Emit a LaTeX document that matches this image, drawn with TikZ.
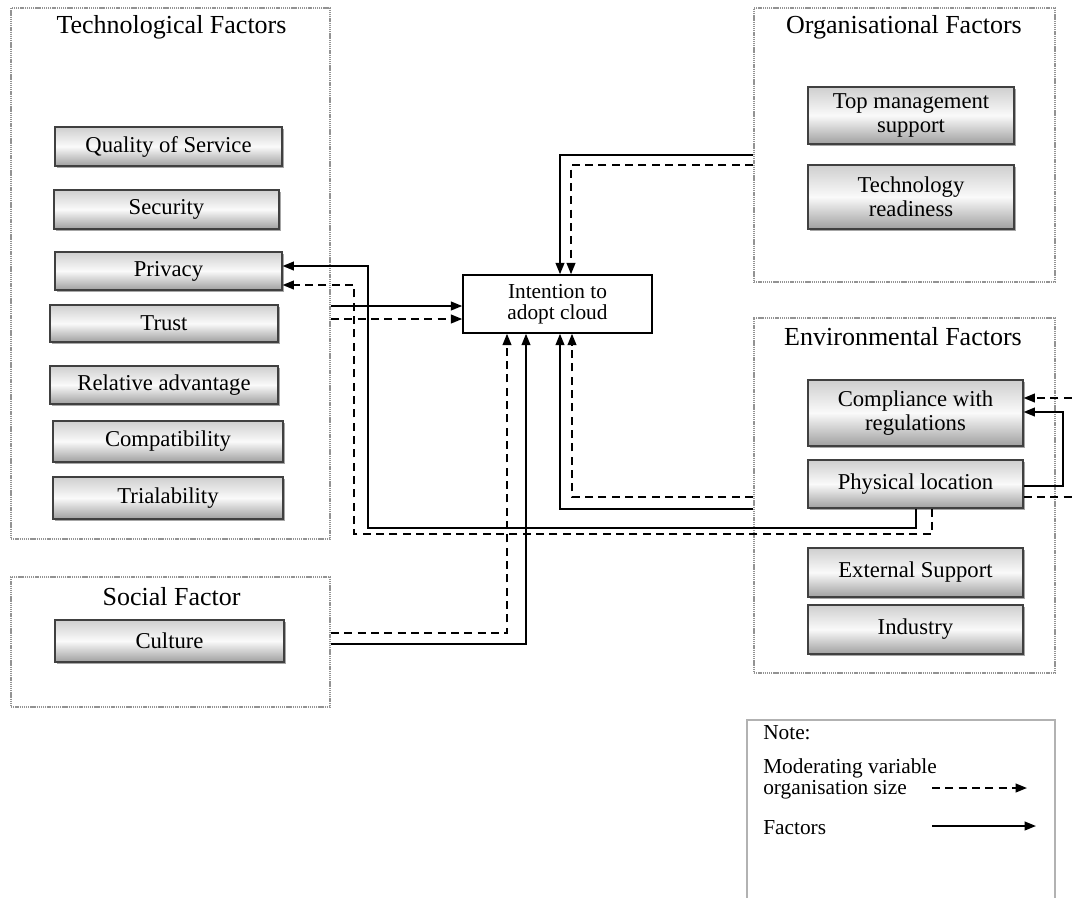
\documentclass[tikz,border=0pt]{standalone}
\usepackage{fontspec}
\setmainfont{Liberation Serif}
\usetikzlibrary{arrows.meta,fit,shadows}
\newcommand\boxfont{\fontsize{17}{18}\selectfont}
\newcommand\grptitlefont{\fontsize{19.5}{22}\selectfont}
\newcommand\legfont{\fontsize{16}{15.75}\selectfont}
\begin{document}
\begin{tikzpicture}[x=0.75pt,y=-0.75pt,
  grp/.style={draw=gray!85, line width=1.5pt, dash pattern=on 1pt off 0.6pt, inner sep=0pt},
  grptitle/.style={font=\grptitlefont, inner sep=0pt},
  gbox/.style={draw=gray!50!black, line width=0.8pt, top color=gray!38, bottom color=gray!75, middle color=gray!4,
    inner sep=0pt, align=center, font=\boxfont, anchor=center,
    drop shadow={shadow xshift=1.3pt, shadow yshift=-1.3pt, opacity=0.35, fill=black}},
  ibox/.style={draw=black, line width=1.1pt, fill=white, inner sep=0pt, align=center, font=\fontsize{16}{16}\selectfont},
  notebox/.style={draw=gray!60, line width=1.3pt, inner sep=0pt},
  legtext/.style={font=\legfont, inner sep=0pt, anchor=west, align=left},
  sol/.style={line width=1.4pt, -{Triangle[length=8.5pt,width=6.5pt]}},
  dsh/.style={line width=1.4pt, dash pattern=on 6pt off 4pt, -{Triangle[length=8.5pt,width=6.5pt]}},
  solnt/.style={line width=1.4pt},
  dshnt/.style={line width=1.4pt, dash pattern=on 6pt off 4pt}
]
\useasboundingbox (0,0) rectangle (1075,897);
\clip (0,0) rectangle (1075,897);

% group containers
\node[grp, fit={(11,8) (330,539)}] (tech) {};
\node[grp, fit={(11,577) (330,707)}] (social) {};
\node[grp, fit={(754,8) (1055,282)}] (org) {};
\node[grp, fit={(754,318) (1055,673)}] (env) {};
\node[notebox, fit={(747,720) (1055,905)}] (note) {};

% titles
\node[grptitle] (techT) at (171.5,27) {Technological Factors};
\node[grptitle] (socialT) at (171.5,597) {Social Factor};
\node[grptitle] (orgT) at (904,27) {Organisational Factors};
\node[grptitle] (envT) at (903,337) {Environmental Factors};

% technological factor boxes
\node[gbox, minimum width=170.25pt, minimum height=29.25pt] (qos) at (168.5,146.5) {Quality of Service};
\node[gbox, minimum width=168.75pt, minimum height=29.25pt] (sec) at (166.5,209.5) {Security};
\node[gbox, minimum width=170.25pt, minimum height=28.5pt] (priv) at (168.5,271) {Privacy};
\node[gbox, minimum width=171pt, minimum height=27.75pt] (trust) at (164,323.5) {Trust};
\node[gbox, minimum width=171pt, minimum height=28.5pt] (rel) at (164,385) {Relative advantage};
\node[gbox, minimum width=172.5pt, minimum height=30.75pt] (comp) at (168,441.5) {Compatibility};
\node[gbox, minimum width=172.5pt, minimum height=31.5pt] (trial) at (168,498) {Trialability};

% social
\node[gbox, minimum width=171.75pt, minimum height=31.5pt] (cult) at (169.5,641) {Culture};

% organisational
\node[gbox, minimum width=154.5pt, minimum height=42.75pt] (topm) at (911,115.5) {Top management\\support};
\node[gbox, minimum width=154.5pt, minimum height=48pt] (techr) at (911,197) {Technology\\readiness};

% environmental
\node[gbox, minimum width=161.25pt, minimum height=49.5pt] (compl) at (915.5,413) {Compliance with\\regulations};
\node[gbox, minimum width=161.25pt, minimum height=36pt] (phys) at (915.5,484) {Physical location};
\node[gbox, minimum width=161.25pt, minimum height=36.75pt] (ext) at (915.5,572.5) {External Support};
\node[gbox, minimum width=161.25pt, minimum height=36.75pt] (ind) at (915.5,629.5) {Industry};

% intention
\node[ibox, minimum width=141.75pt, minimum height=43.5pt] (intent) at (557.5,304) {Intention to\\adopt cloud};

% connectors: organisational -> intention
\draw[sol] (org.west |- 0,155) -| (560,0 |- intent.north);
\draw[dsh] (org.west |- 0,165) -| (571,0 |- intent.north);

% environmental -> intention
\draw[sol] (env.west |- 0,509) -| (560,0 |- intent.south);
\draw[dsh] (env.west |- 0,497) -| (572,0 |- intent.south);

% technological -> intention
\draw[sol] (tech.east |- 0,306) -- (intent.west |- 0,306);
\draw[dsh] (tech.east |- 0,319) -- (intent.west |- 0,319);

% social -> intention
\draw[sol] (social.east |- 0,644) -| (526,0 |- intent.south);
\draw[dsh] (social.east |- 0,633) -| (507,0 |- intent.south);

% physical location -> privacy
\draw[sol] (916,0 |- phys.south) -- (916,528) -- (368,528) -- (368,266) -- (priv.east |- 0,266);
\draw[dsh] (932,0 |- phys.south) -- (932,534) -- (354,534) -- (354,285) -- (priv.east |- 0,285);

% physical location -> compliance
\draw[sol] (phys.east |- 0,486) -- (1063,486) -- (1063,412) -- (compl.east |- 0,412);
\coordinate (outA) at (1085,497);
\coordinate (outB) at (1085,398);
\draw[dshnt] (phys.east |- 0,497) -- (outA);
\draw[dsh] (outB) -- (compl.east |- 0,398);

% legend
\node[legtext] (noteT) at (763,733) {Note:};
\node[legtext] (modT) at (763,778.5) {Moderating variable\\organisation size};
\node[legtext] (facT) at (763,828) {Factors};
\coordinate (l1a) at (932,788);
\coordinate (l1b) at (1027,788);
\coordinate (l2a) at (932,826);
\coordinate (l2b) at (1036,826);
\draw[dsh] (l1a) -- (l1b);
\draw[sol] (l2a) -- (l2b);
\end{tikzpicture}
\end{document}
